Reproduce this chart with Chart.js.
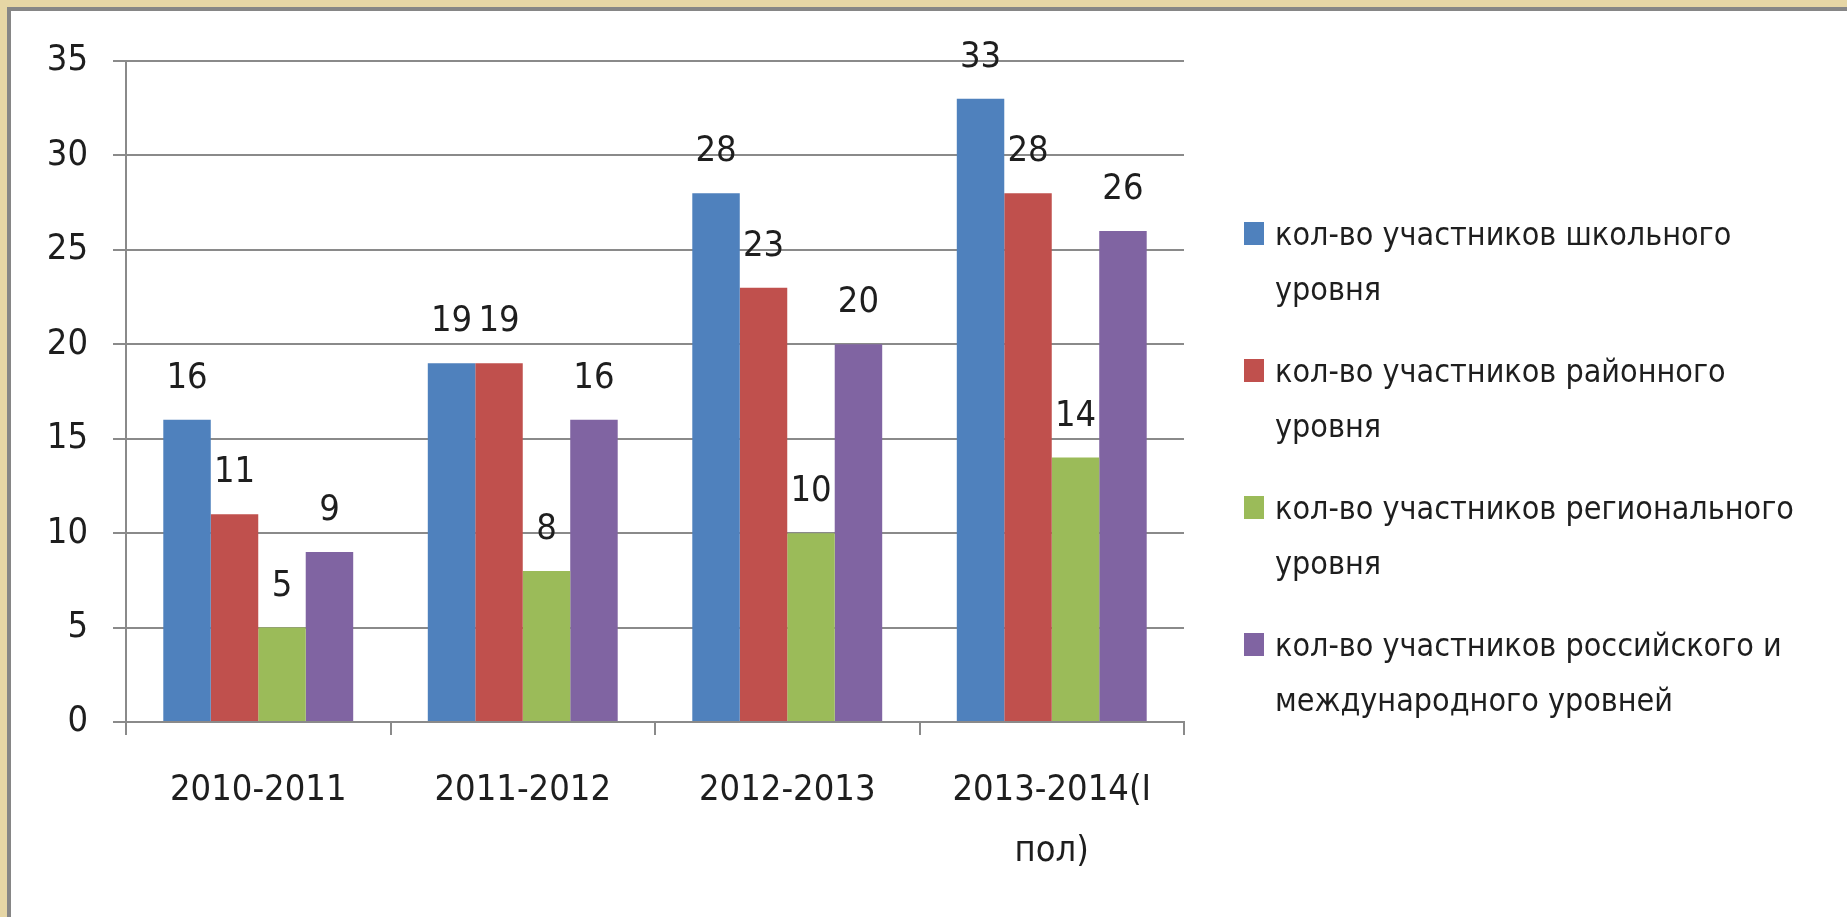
<!DOCTYPE html>
<html>
<head>
<meta charset="utf-8">
<script src="https://cdn.jsdelivr.net/npm/chart.js@4"></script>
<style>
    html, body { margin: 0; padding: 0; }
    body { width: 1847px; height: 917px; background: #e6d6a5; overflow: hidden; position: relative; }
    .frame { position: absolute; left: 7px; top: 7px; right: 0; bottom: 0; background: #fff;
             border-top: 4px solid #868686; border-left: 4px solid #868686; }
    .wrap { position: absolute; left: 0; top: 0; width: 1847px; height: 917px; }
</style>
</head>
<body>
<div class="frame"></div>
<div class="wrap"><canvas id="chart"></canvas></div>
<script>
// =============================
// Chart data
// =============================
const categories = ['2010-2011', '2011-2012', '2012-2013', ['2013-2014(I', 'пол)']];

const seriesNames = [
    ['кол-во участников школьного', 'уровня'],
    ['кол-во участников районного', 'уровня'],
    ['кол-во участников регионального', 'уровня'],
    ['кол-во участников российского и', 'международного уровней']
];

const schoolLevel = [16, 19, 28, 33];
const districtLevel = [11, 19, 23, 28];
const regionalLevel = [5, 8, 10, 14];
const nationalLevel = [9, 16, 20, 26];

const yTicks = [0, 5, 10, 15, 20, 25, 30, 35];

const seriesColors = ['#4f81bd', '#c0504d', '#9bbb59', '#8064a2'];

// =============================
// Styles
// =============================
const FONT = "'Liberation Sans Narrow', 'DejaVu Sans Condensed', 'Open Sans', sans-serif";
const TEXT = '#1e1e1e';
const GRID = '#8a8a8a';
const AXIS_SIZE = 36;

// Value labels over the bars
const barValues = {
    id: 'barValues',
    afterDatasetsDraw(chart) {
        const ctx = chart.ctx;
        ctx.save();
        ctx.font = AXIS_SIZE + 'px ' + FONT;
        ctx.fillStyle = TEXT;
        ctx.textAlign = 'center';
        ctx.textBaseline = 'alphabetic';
        chart.data.datasets.forEach((ds, i) => {
            chart.getDatasetMeta(i).data.forEach((bar, j) => {
                ctx.fillText(String(ds.data[j]), bar.x, bar.y - 32);
            });
        });
        ctx.restore();
    }
};

// Legend on the right, two lines per item
const sideLegend = {
    id: 'sideLegend',
    afterDraw(chart) {
        const ctx = chart.ctx;
        ctx.save();
        ctx.font = '32px ' + FONT;
        ctx.textAlign = 'left';
        ctx.textBaseline = 'alphabetic';
        seriesNames.forEach((lines, i) => {
            const base = 245 + i * 137;
            ctx.fillStyle = seriesColors[i];
            ctx.fillRect(1244, base - 23, 20, 23);
            ctx.fillStyle = TEXT;
            lines.forEach((line, k) => ctx.fillText(line, 1275, base + k * 55));
        });
        ctx.restore();
    }
};

const values = [schoolLevel, districtLevel, regionalLevel, nationalLevel];

new Chart(document.getElementById('chart'), {
    type: 'bar',
    data: {
        labels: categories,
        datasets: values.map((data, i) => ({
            label: seriesNames[i].join(' '),
            data: data,
            backgroundColor: seriesColors[i],
            borderWidth: 0,
            barPercentage: 1,
            categoryPercentage: 0.718
        }))
    },
    options: {
        responsive: true,
        maintainAspectRatio: false,
        animation: false,
        events: [],
        layout: { padding: { left: 0, right: 663, top: 61, bottom: 0 } },
        plugins: {
            legend: { display: false },
            tooltip: { enabled: false }
        },
        scales: {
            x: {
                grid: { display: true, offset: true, drawOnChartArea: false, tickLength: 13, color: GRID, lineWidth: 2 },
                border: { display: true, color: GRID, width: 2 },
                ticks: { color: TEXT, font: { family: FONT, size: AXIS_SIZE, lineHeight: 1.7 }, padding: 25, maxRotation: 0, autoSkip: false },
                afterFit(scale) { scale.height = 917 - 722; }
            },
            y: {
                min: 0,
                max: 35,
                afterBuildTicks(scale) { scale.ticks = yTicks.map(v => ({ value: v })); },
                grid: { color: GRID, lineWidth: 2, tickLength: 13 },
                border: { display: true, color: GRID, width: 2 },
                ticks: { color: TEXT, font: { family: FONT, size: AXIS_SIZE }, padding: 25 },
                afterFit(scale) { scale.width = 126; }
            }
        }
    },
    plugins: [barValues, sideLegend]
});
</script>
</body>
</html>
